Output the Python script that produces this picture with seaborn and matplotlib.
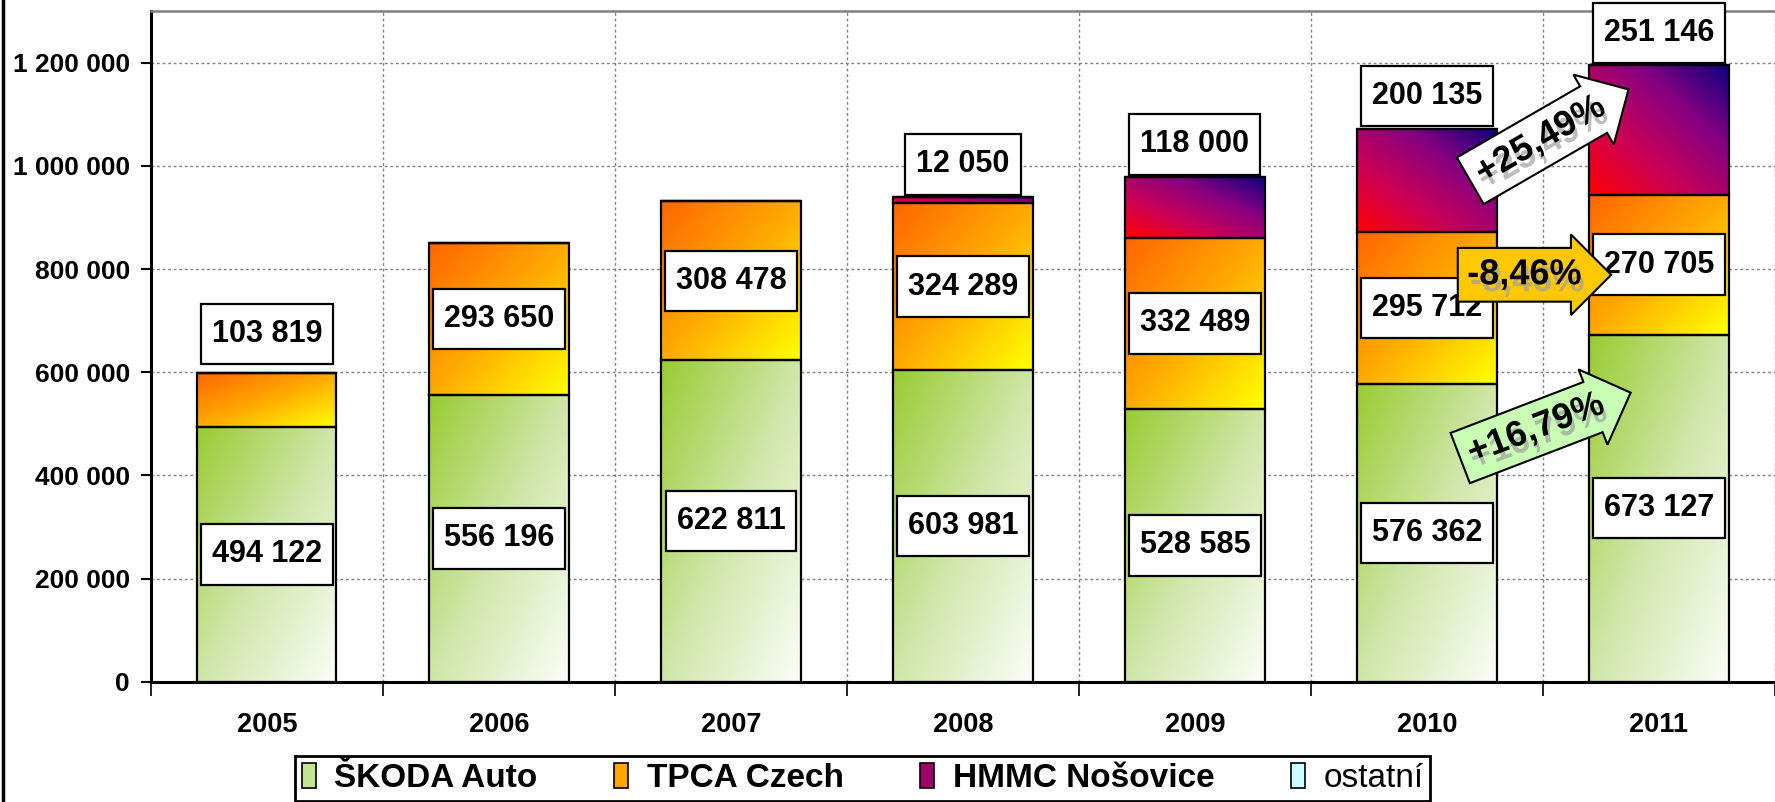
import numpy as np
import pandas as pd
import seaborn as sns
import matplotlib.pyplot as plt
import matplotlib.patheffects as pe
from matplotlib.colors import LinearSegmentedColormap
from matplotlib.patches import Patch
from matplotlib.lines import Line2D
from matplotlib.path import Path
from matplotlib.ticker import FuncFormatter, MultipleLocator, FixedLocator

# production of cars in CZ by maker
years = ['2005', '2006', '2007', '2008', '2009', '2010', '2011']
skoda = [494122, 556196, 622811, 603981, 528585, 576362, 673127]
tpca = [103819, 293650, 308478, 324289, 332489, 295712, 270705]
hmmc = [0, 0, 0, 12050, 118000, 200135, 251146]
ostatni = [0, 0, 0, 0, 0, 0, 0]
series_names = ['ŠKODA Auto', 'TPCA Czech', 'HMMC Nošovice', 'ostatní']
growth_labels = ['+25,49%', '-8,46%', '+16,79%']

skoda_stops = ['#99cc33', '#cfe6a8', '#fbfdf7']
tpca_stops = ['#ff6600', '#ffaa00', '#ffff00']
hmmc_stops = ['#ff0000', '#cc0055', '#880080', '#100080']
ostatni_stops = ['#ccffff', '#ffffff']


def fmt(v):
    return f'{int(v):,}'.replace(',', ' ')


def fill_gradient(ax, patch, stops, flip=False):
    h = patch.get_height()
    if h <= 0:
        return
    x0, y0, w = patch.get_x(), patch.get_y(), patch.get_width()
    cmap = LinearSegmentedColormap.from_list('g', stops)
    gx, gy = np.meshgrid(np.linspace(0, 1, 80), np.linspace(0, 1, 80))
    t = (gx + (1 - gy)) / 2 if flip else (gx + gy) / 2
    img = ax.imshow(cmap(t), extent=[x0, x0 + w, y0, y0 + h],
                    aspect='auto', origin='upper', zorder=1.9,
                    interpolation='bilinear')
    img.set_clip_path(patch)
    patch.set_facecolor('none')


def label_box(x0, y0, width, height, mutation_size):
    # plain rectangle, more padding top/bottom than left/right
    px, py = 0.36 * mutation_size, 0.5 * mutation_size
    x0, y0 = x0 - px, y0 - py
    x1, y1 = x0 + width + 2 * px, y0 + height + 2 * py
    return Path([(x0, y0), (x1, y0), (x1, y1), (x0, y1), (x0, y0)],
                closed=True)


sns.set_theme(style='white')
plt.rcParams['font.family'] = ['Liberation Sans', 'DejaVu Sans']
plt.rcParams['font.weight'] = 'bold'
for key in ['text.color', 'axes.labelcolor', 'xtick.color', 'ytick.color']:
    plt.rcParams[key] = 'black'

df = pd.DataFrame({'rok': years, 'skoda': skoda, 'tpca': tpca,
                   'hmmc': hmmc, 'ostatni': ostatni})

fig, ax = plt.subplots(figsize=(17.75, 8.02), dpi=100)
fig.subplots_adjust(left=0.085, right=1.0, top=0.986, bottom=0.150)

layers = [('skoda', skoda_stops, False), ('tpca', tpca_stops, False),
          ('hmmc', hmmc_stops, True), ('ostatni', ostatni_stops, False)]
bottom = np.zeros(len(years))
for col, stops, flip in layers:
    sns.barplot(data=df, x='rok', y=col, bottom=bottom, width=0.6,
                color='white', edgecolor='black', linewidth=1.6,
                errorbar=None, ax=ax, zorder=2)
    for patch in ax.containers[-1]:
        fill_gradient(ax, patch, stops, flip)
    bottom = bottom + df[col].to_numpy()

# data labels
lab_kw = dict(ha='center', va='center', fontsize=22, fontweight='bold',
              color='black',
              bbox=dict(boxstyle=label_box, fc='white', ec='black', lw=1.6),
              zorder=6)
for i in range(len(years)):
    s, t, h = skoda[i], tpca[i], hmmc[i]
    ax.text(i, s / 2, fmt(s), **lab_kw)
    if t < 150000:
        ax.text(i, s + t + 76000, fmt(t), **lab_kw)
    else:
        ax.text(i, s + t / 2, fmt(t), **lab_kw)
    if h > 0:
        ax.text(i, s + t + h + 63000, fmt(h), **lab_kw)

# growth arrows 2010 -> 2011
arrow_specs = [(5.49, 1050000, 30, '#ffffff'),
               (5.42, 789000, 0, '#ffc800'),
               (5.47, 490000, 21, '#c8ffb4')]
for lab, (xa, ya, rot, fc) in zip(growth_labels, arrow_specs):
    ax.text(xa, ya, lab, ha='center', va='center', rotation=rot,
            rotation_mode='anchor', fontsize=26, fontweight='bold',
            color='black',
            bbox=dict(boxstyle='rarrow,pad=0.26', fc=fc, ec='black', lw=1.5),
            path_effects=[pe.withSimplePatchShadow(offset=(2, -5),
                                                   shadow_rgbFace='#a0a0a0',
                                                   alpha=0.7)],
            zorder=7)

ax.set_xlim(-0.5, 6.5)
ax.set_ylim(0, 1300000)
ax.set_xlabel('')
ax.set_ylabel('')

ax.yaxis.set_major_locator(MultipleLocator(200000))
ax.yaxis.set_major_formatter(FuncFormatter(lambda v, p: fmt(v)))
ax.xaxis.set_minor_locator(FixedLocator(np.arange(-0.5, 7, 1.0)))
ax.tick_params(axis='y', which='major', left=True, direction='out',
               length=7, width=1.5, pad=8, labelsize=19, color='black',
               labelcolor='black')
ax.tick_params(axis='x', which='major', length=0, pad=22, labelsize=19.5,
               labelcolor='black')
ax.tick_params(axis='x', which='minor', bottom=True, direction='out',
               length=10, width=1.2, color='black')
for lbl in ax.get_xticklabels() + ax.get_yticklabels():
    lbl.set_fontweight('bold')

ax.set_axisbelow(True)
ax.grid(axis='y', which='major', ls=(0, (2, 2)), color='#808080', lw=1.0)
ax.grid(axis='x', which='minor', ls=(0, (2, 2)), color='#808080', lw=1.0)
ax.grid(axis='x', which='major', visible=False)

for side in ['left', 'bottom']:
    ax.spines[side].set_color('black')
    ax.spines[side].set_linewidth(2.2)
ax.spines['top'].set_color('#808080')
ax.spines['top'].set_linewidth(1.8)
ax.spines['right'].set_visible(False)

handles = [Patch(facecolor=c, edgecolor='black', lw=1.2)
           for c in ['#c4e394', '#ffa500', '#a0006a', '#ccffff']]
leg = fig.legend(handles, series_names, loc='upper center',
                 bbox_to_anchor=(0.486, 0.0575), borderaxespad=0, ncol=4,
                 fontsize=24, frameon=True, fancybox=False, framealpha=1,
                 edgecolor='black', handlelength=0.42, handleheight=0.8,
                 handletextpad=0.55, columnspacing=2.3, borderpad=0.2)
leg.get_frame().set_linewidth(2)
for txt in leg.get_texts():
    txt.set_fontweight('bold')
    txt.set_color('black')
leg.get_texts()[3].set_fontweight('normal')

fig.add_artist(Line2D([0.0015, 0.0015], [0, 1], color='black', lw=2.5,
                      transform=fig.transFigure))

plt.savefig('out.png', dpi=100)
